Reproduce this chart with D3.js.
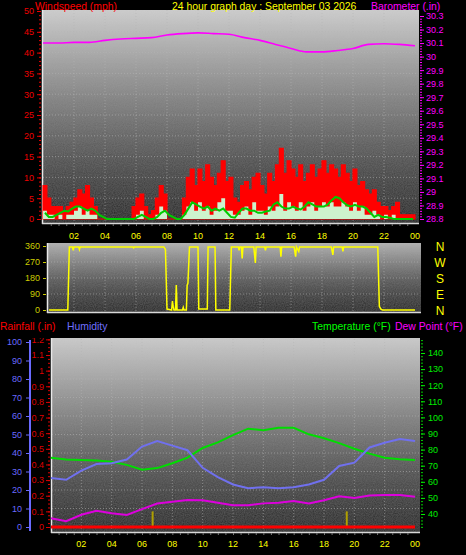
<!DOCTYPE html>
<html><head><meta charset="utf-8">
<script src="https://cdn.jsdelivr.net/npm/d3@7"></script>
<style>
html,body{margin:0;padding:0;background:#000;overflow:hidden;}
svg{display:block;}
text{font-family:"Liberation Sans",Arial,sans-serif;}
</style></head><body>
<svg id="c" width="466" height="555"></svg>
<script>
// ---------- DATA ----------
const hourTicks = ["02","04","06","08","10","12","14","16","18","20","22","00"];
// wind (mph), 15-minute slots from 00:00
const windGust = [
 8,5,3,3, 3,2,3,4, 5,7,6,8, 5,3,0,0, 0,0,0,0, 0,0,0,3,
 5,6,3,1, 2,5,8,6, 0,0,0,0, 5,10,12,8, 12,9,13,10, 8,11,14,9,
 10,5,4,8, 9,7,10,11, 8,6,11,9, 13,17,11,14, 12,10,13,9, 11,13,10,12,
 14,11,13,12, 10,13,11,9, 12,8,9,7, 6,7,4,3, 3,2,3,4, 1,1,1,1];
const windSpeed = [
 2,1,1,0, 1,0,1,1, 2,3,1,2, 1,1,0,0, 0,0,0,0, 0,0,0,0,
 1,2,0,0, 0,1,3,2, 0,0,0,0, 1,3,4,2, 4,2,3,1, 2,4,5,2,
 2,1,1,2, 3,1,4,2, 2,1,3,2, 3,6,2,4, 3,2,4,2, 3,4,2,3,
 4,3,4,3, 3,4,3,2, 4,2,3,1, 1,2,1,0, 1,0,1,0, 0,0,0,0];
const windAvg = [
 1.5,0.5,0.5,1, 1.5,2,1.8,2.5, 3,3,2.5,2, 2.5,2,1,0.5, 0,0,0,0, 0,0,0,0,
 0.5,1,0.5,0, 0,0.5,1.5,2, 1,0.5,0,0, 1,2.5,4,3.5, 3,2.5,3,2, 2.5,2,2.5,1.5,
 0.5,0.3,1.5,2.5, 2.5,2,2,1.5, 1.5,1.8,2,3.5, 4,3,2.5,2.5, 3,2.5,2.3,3, 4,3.5,3,3,
 3,3.5,4.5,5.3, 5,4,3.3,3, 3.4,3,3,2.5, 1.5,0.5,1,0.5, 0.5,0.3,0,0, 0,0,0,0];
// barometer (in), hourly 00..24
const baro = [30.10,30.10,30.105,30.105,30.12,30.13,30.135,30.14,30.16,30.17,30.175,30.17,30.165,
 30.14,30.12,30.09,30.06,30.035,30.035,30.045,30.06,30.09,30.095,30.09,30.08];
// wind direction (deg) at given hours
const dirHours = [0,1.6,1.7,1.9,1.95,2.0,2.3,2.35,2.4,5.8,5.85,5.9,7.8,7.9,8.0,8.3,8.35,8.4,8.45,8.55,8.6,8.65,
 9.0,9.05,9.1,9.25,9.3,9.35,9.45,10.0,10.05,10.6,10.65,11.1,11.15,12.05,12.15,12.6,12.65,12.7,12.8,12.85,12.9,
 13.6,13.7,13.75,14.3,14.35,14.4,15.3,15.35,15.4,16.2,16.3,16.35,16.5,16.55,18.6,18.7,18.75,19.3,19.35,19.4,
 21.6,21.7,21.8,21.9,24];
const dirDeg = [0,0,355,355,335,355,355,340,355,355,350,355,355,340,5,0,50,20,0,0,140,0,
 0,15,0,0,140,150,355,355,5,5,355,355,0,0,355,355,335,355,355,290,355,
 355,265,355,355,335,355,355,300,355,355,300,355,330,355,355,310,355,355,330,355,
 355,20,5,0,0];
const dirLabels = ["N","W","S","E","N"];
// hourly 00..24
const temperature = [75.0,73.8,73.5,73.3,72.5,70.5,67.5,68.5,71.5,75.0,81.0,84.5,89.0,93.0,92.0,93.5,93.5,89.5,87.0,84.0,80.5,77.5,75.0,74.0,73.5];
const humidity = [26.5,25.5,30.5,34.0,34.5,36.5,43.5,46.5,44.0,41.5,32.0,27.0,23.0,21.0,21.5,21.0,21.5,23.0,25.5,33.0,34.8,43.0,45.5,47.5,46.5];
const dewPoint = [37.3,35.5,39.5,42.0,40.5,39.4,43.0,46.5,47.6,48.7,48.5,47.0,45.5,45.5,46.6,47.0,48.0,46.5,48.5,51.0,50.0,51.5,51.8,51.8,50.7];
const rainfall = [0,0,0,0,0,0,0,0,0,0,0,0,0,0,0,0,0,0,0,0,0,0,0,0,0];
const rainRateHours = [6.7,19.5];
const rainRate = [0.1,0.1];

// ---------- SCALES ----------
const svg = d3.select("#c");
const xTop = d3.scaleLinear([0,24],[43,415]);
const yWind = d3.scaleLinear([0,50],[219,11]);
const yBaro = d3.scaleLinear([28.8,30.3],[219,16]);
const yDir = d3.scaleLinear([0,360],[310,246]);
const xBot = d3.scaleLinear([0,24],[51,415]);
const yHum = d3.scaleLinear([0,100],[527,342]);
const yRain = d3.scaleLinear([0,1.1],[527,355]);
const yTemp = d3.scaleLinear([40,140],[514,353]);
const hrs = d3.range(25);

// gradients
const defs = svg.append("defs");
function grad(id, stops){
  const g = defs.append("linearGradient").attr("id",id).attr("x1",0).attr("x2",0).attr("y1",0).attr("y2",1);
  stops.forEach(s=>g.append("stop").attr("offset",s[0]).attr("stop-color",s[1]));
}
grad("gTop",[[0,"#cdcdcd"],[0.45,"#7a7a7a"],[1,"#151515"]]);
grad("gMid",[[0,"#b0b0b0"],[0.5,"#5a5a5a"],[1,"#141414"]]);
grad("gBot",[[0,"#cacaca"],[0.45,"#787878"],[1,"#141414"]]);
const noise = defs.append("filter").attr("id","nz").attr("x",0).attr("y",0).attr("width",1).attr("height",1);
noise.append("feTurbulence").attr("type","fractalNoise").attr("baseFrequency","0.9").attr("numOctaves",1).attr("result","t");
noise.append("feColorMatrix").attr("in","t").attr("type","matrix").attr("values","0 0 0 0 0.5  0 0 0 0 0.5  0 0 0 0 0.5  0 0 0 0.18 0").attr("result","n");
noise.append("feComposite").attr("in","n").attr("in2","SourceGraphic").attr("operator","in").attr("result","n2");
noise.append("feMerge").selectAll("feMergeNode").data(["SourceGraphic","n2"]).join("feMergeNode").attr("in",d=>d);

function panel(x0,x1,y0,y1,fill){
  svg.append("rect").attr("x",x0).attr("y",y0).attr("width",x1-x0).attr("height",y1-y0).attr("fill",`url(#${fill})`).attr("filter","url(#nz)");
  svg.append("line").attr("x1",x0+0.5).attr("x2",x0+0.5).attr("y1",y0).attr("y2",y1).attr("stroke","#e8e8e8").attr("stroke-width",1.5);
  svg.append("line").attr("x1",x0).attr("x2",x1).attr("y1",y1-0.5).attr("y2",y1-0.5).attr("stroke","#d8d8d8").attr("stroke-width",1.5);
}
const gridStyle = s=>s.attr("stroke","#b4b4b4").attr("stroke-width",1).attr("stroke-dasharray","1,2").attr("opacity",0.55);

// ---------- TOP PANEL ----------
panel(42,419,10,224,"gTop");
svg.append("g").selectAll("line").data(d3.range(2,24,2)).join("line")
  .attr("x1",d=>xTop(d)).attr("x2",d=>xTop(d)).attr("y1",10).attr("y2",222).call(gridStyle);
svg.append("g").selectAll("line").data(d3.range(5,50,5)).join("line")
  .attr("x1",43).attr("x2",418).attr("y1",d=>yWind(d)).attr("y2",d=>yWind(d)).call(gridStyle);

const slot = (arr)=>arr.map((v,i)=>[i/4,v]).concat([[24,arr[arr.length-1]]]);
svg.append("path").datum(slot(windGust))
  .attr("d",d3.area().x(d=>xTop(d[0])).y0(yWind(0)).y1(d=>yWind(d[1])).curve(d3.curveStepAfter))
  .attr("fill","#ff0000").attr("stroke","#ff0000").attr("stroke-width",1.2);
svg.append("path").datum(slot(windSpeed))
  .attr("d",d3.area().x(d=>xTop(d[0])).y0(yWind(0)).y1(d=>yWind(d[1])).curve(d3.curveStepAfter))
  .attr("fill","#cdf2cd");
svg.append("path").datum(windAvg.map((v,i)=>[i/4+0.125,v]))
  .attr("d",d3.line().x(d=>xTop(d[0])).y(d=>yWind(d[1])))
  .attr("fill","none").attr("stroke","#00cc00").attr("stroke-width",2);
svg.append("path").datum(baro.map((v,i)=>[hrs[i],v]))
  .attr("d",d3.line().x(d=>xTop(d[0])).y(d=>yBaro(d[1])).curve(d3.curveMonotoneX))
  .attr("fill","none").attr("stroke","#ff00ff").attr("stroke-width",1.6);

function styleAxis(g,color,size){
  g.select(".domain").remove();
  g.selectAll("line").attr("stroke",color);
  g.selectAll("text").attr("fill",color).attr("font-size",size).attr("font-family","Liberation Sans, Arial, sans-serif");
}
// wind axis
svg.append("g").attr("transform","translate(41,0)")
  .call(d3.axisLeft(yWind).tickValues(d3.range(0,51,1)).tickSize(2).tickFormat(""))
  .call(g=>styleAxis(g,"#ee0000",8));
svg.append("g").attr("transform","translate(41,0)")
  .call(d3.axisLeft(yWind).tickValues(d3.range(0,51,5)).tickSize(4).tickPadding(3))
  .call(g=>styleAxis(g,"#ee0000","9px"));
// barometer axis
svg.append("g").attr("transform","translate(420,0)")
  .call(d3.axisRight(yBaro).tickValues(d3.range(28.8,30.31,0.02)).tickSize(2).tickFormat(""))
  .call(g=>styleAxis(g,"#ff00ff",8));
svg.append("g").attr("transform","translate(420,0)")
  .call(d3.axisRight(yBaro).tickValues(d3.range(0,16).map(i=>+(28.8+i*0.1).toFixed(1))).tickSize(4).tickPadding(2).tickFormat(d=>String(+d.toFixed(1))))
  .call(g=>styleAxis(g,"#ff00ff","9px"));
// top x ticks (minor) and labels
svg.append("g").attr("transform","translate(0,224)")
  .call(d3.axisBottom(xTop).tickValues(d3.range(0.5,24,0.5)).tickSize(2).tickFormat(""))
  .call(g=>styleAxis(g,"#777",8));
svg.append("g").selectAll("text").data(hourTicks).join("text")
  .attr("x",(d,i)=>xTop((i+1)*2)).attr("y",239).attr("text-anchor","middle")
  .attr("fill","#ffff00").attr("font-size","9px").text(d=>d);

// titles
const tfs = "10.4px";
svg.append("text").attr("x",35).attr("y",10).attr("fill","#ff0000").attr("font-size",tfs).text("Windspeed (mph)");
svg.append("text").attr("x",172).attr("y",10).attr("fill","#ffff00").attr("font-size",tfs).text("24 hour graph day : September 03 2026");
svg.append("text").attr("x",371).attr("y",10).attr("fill","#ff00ff").attr("font-size",tfs).text("Barometer (.in)");

// ---------- MIDDLE PANEL ----------
panel(47,421,243,313,"gMid");
svg.append("g").selectAll("line").data([90,180,270]).join("line")
  .attr("x1",48).attr("x2",420).attr("y1",d=>yDir(d)).attr("y2",d=>yDir(d)).call(gridStyle);
svg.append("g").selectAll("line").data(d3.range(2,24,2)).join("line")
  .attr("x1",d=>xTop(d)).attr("x2",d=>xTop(d)).attr("y1",244).attr("y2",311).call(gridStyle);
svg.append("path").datum(dirHours.map((h,i)=>[h,dirDeg[i]]))
  .attr("d",d3.line().x(d=>Math.max(49,xTop(d[0]))).y(d=>yDir(d[1])))
  .attr("fill","none").attr("stroke","#ffff00").attr("stroke-width",1.5);
svg.append("g").attr("transform","translate(46,0)")
  .call(d3.axisLeft(yDir).tickValues([0,90,180,270,360]).tickSize(3).tickPadding(3))
  .call(g=>styleAxis(g,"#cccc00","9px"));
svg.append("g").selectAll("text").data(dirLabels).join("text")
  .attr("x",440).attr("y",(d,i)=>yDir(360-i*90)+5).attr("text-anchor","middle")
  .attr("fill","#ffff00").attr("font-size","12px").text(d=>d);

// ---------- BOTTOM PANEL ----------
panel(51,420,338,533,"gBot");
svg.append("g").selectAll("line").data(d3.range(10,100,10)).join("line")
  .attr("x1",52).attr("x2",419).attr("y1",d=>yHum(d)).attr("y2",d=>yHum(d)).call(gridStyle);
svg.append("g").selectAll("line").data(d3.range(2,24,2)).join("line")
  .attr("x1",d=>xBot(d)).attr("x2",d=>xBot(d)).attr("y1",339).attr("y2",531).call(gridStyle);

const lineB = y=>d3.line().x((d,i)=>xBot(hrs[i])).y(d=>y(d));
svg.append("path").datum(temperature).attr("d",lineB(yTemp)).attr("fill","none").attr("stroke","#00dd00").attr("stroke-width",2);
svg.append("path").datum(humidity).attr("d",lineB(yHum)).attr("fill","none").attr("stroke","#7070ee").attr("stroke-width",2);
svg.append("path").datum(dewPoint).attr("d",lineB(yTemp)).attr("fill","none").attr("stroke","#dd00dd").attr("stroke-width",2);
svg.append("g").selectAll("line").data(rainRate).join("line")
  .attr("x1",(d,i)=>xBot(rainRateHours[i])).attr("x2",(d,i)=>xBot(rainRateHours[i]))
  .attr("y1",yRain(0)).attr("y2",d=>yRain(d)).attr("stroke","#b0a000").attr("stroke-width",2);
svg.append("path").datum(rainfall).attr("d",lineB(yRain)).attr("fill","none").attr("stroke","#ff0000").attr("stroke-width",3);

// humidity axis
svg.append("g").attr("transform","translate(30,0)")
  .call(d3.axisLeft(yHum).tickValues(d3.range(0,101,10)).tickSize(4).tickPadding(4))
  .call(g=>styleAxis(g,"#6a6aff","9px"));
svg.append("line").attr("x1",30).attr("x2",30).attr("y1",340).attr("y2",531).attr("stroke","#6a6aff").attr("stroke-width",2);
// rain axis
defs.append("clipPath").attr("id","rc").append("rect").attr("x",0).attr("y",338).attr("width",60).attr("height",200);
const rg = svg.append("g").attr("clip-path","url(#rc)");
rg.append("g").attr("transform","translate(50,0)")
  .call(d3.axisLeft(yRain).tickValues(d3.range(0,1.21,0.025)).tickSize(2).tickFormat(""))
  .call(g=>styleAxis(g,"#dd0000",8));
rg.append("g").attr("transform","translate(50,0)")
  .call(d3.axisLeft(yRain).tickValues(d3.range(0,13).map(i=>+(i*0.1).toFixed(1))).tickSize(4).tickPadding(2).tickFormat(d=>String(+d.toFixed(1))))
  .call(g=>styleAxis(g,"#dd0000","9px"));
// temperature axis
svg.append("g").attr("transform","translate(421,0)")
  .call(d3.axisRight(yTemp).tickValues(d3.range(32,149,2)).tickSize(2).tickFormat(""))
  .call(g=>styleAxis(g,"#00cc00",8));
svg.append("g").attr("transform","translate(421,0)")
  .call(d3.axisRight(yTemp).tickValues(d3.range(40,141,10)).tickSize(4).tickPadding(3))
  .call(g=>styleAxis(g,"#00ee00","9px"));
// bottom x
svg.append("g").attr("transform","translate(0,533)")
  .call(d3.axisBottom(xBot).tickValues(d3.range(0.5,24,0.5)).tickSize(2).tickFormat(""))
  .call(g=>styleAxis(g,"#777",8));
svg.append("g").selectAll("text").data(hourTicks).join("text")
  .attr("x",(d,i)=>xBot((i+1)*2)).attr("y",547).attr("text-anchor","middle")
  .attr("fill","#ffff00").attr("font-size","9px").text(d=>d);

svg.append("text").attr("x",0).attr("y",330).attr("fill","#ff0000").attr("font-size",tfs).text("Rainfall (.in)");
svg.append("text").attr("x",67).attr("y",330).attr("fill","#7070ff").attr("font-size",tfs).text("Humidity");
svg.append("text").attr("x",312).attr("y",330).attr("fill","#00ff00").attr("font-size",tfs).text("Temperature (°F)");
svg.append("text").attr("x",395).attr("y",330).attr("fill","#ff00ff").attr("font-size",tfs).text("Dew Point (°F)");
</script></body></html>
